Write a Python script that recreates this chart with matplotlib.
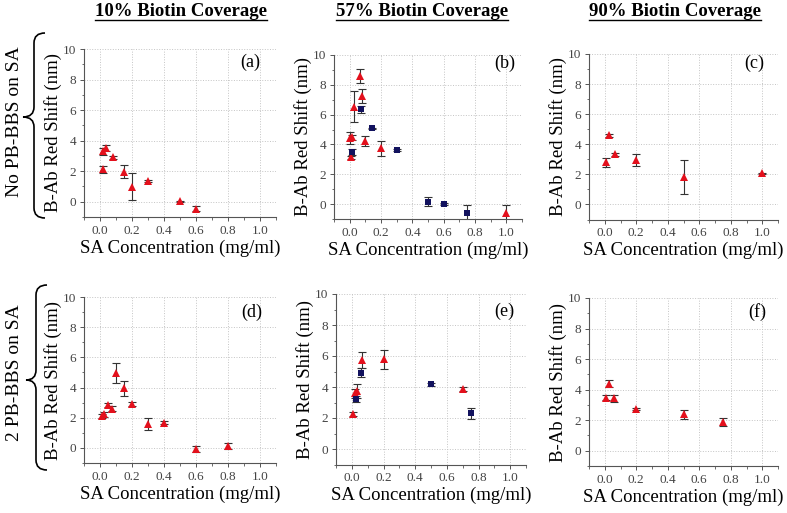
import matplotlib
matplotlib.use("Agg")
import matplotlib.pyplot as plt
from matplotlib.path import Path
from matplotlib.patches import PathPatch
from matplotlib.lines import Line2D
from matplotlib.ticker import MultipleLocator

plt.rcParams['font.family'] = ['Liberation Serif', 'DejaVu Serif']

W, H = 787, 513

col_titles = ['10% Biotin Coverage', '57% Biotin Coverage', '90% Biotin Coverage']
row_titles = ['No PB-BBS on SA', '2 PB-BBS on SA']
panel_tags = ['(a)', '(b)', '(c)', '(d)', '(e)', '(f)']
xticks = [0.0, 0.2, 0.4, 0.6, 0.8, 1.0]
yticks = [0, 2, 4, 6, 8, 10]

# (a) 10%, no PB-BBS
a_x = [0.02, 0.037, 0.02, 0.08, 0.15, 0.2, 0.3, 0.5, 0.6]
a_y = [3.3, 3.5, 2.12, 2.9, 1.97, 0.99, 1.36, 0.02, -0.45]
a_e = [0.25, 0.2, 0.23, 0.1, 0.43, 0.88, 0.05, 0.05, 0.15]

# (b) 57%, no PB-BBS
b_x = [0.0, 0.011, 0.015, 0.028, 0.064, 0.079, 0.1, 0.2, 1.0]
b_y = [4.41, 3.13, 4.48, 6.53, 8.6, 7.25, 4.25, 3.74, -0.58]
b_e = [0.4, 0.1, 0.15, 1.05, 0.45, 0.5, 0.33, 0.5, 0.5]
b_sq_x = [0.015, 0.07, 0.145, 0.3, 0.5, 0.6, 0.75]
b_sq_y = [3.47, 6.36, 5.08, 3.62, 0.15, 0.0, -0.58]
b_sq_e = [0.2, 0.25, 0.05, 0.05, 0.3, 0.05, 0.5]

# (c) 90%, no PB-BBS
c_x = [0.01, 0.027, 0.064, 0.2, 0.5, 1.0]
c_y = [2.8, 4.6, 3.33, 2.93, 1.8, 2.06]
c_e = [0.28, 0.1, 0.1, 0.4, 1.13, 0.05]

# (d) 10%, 2 PB-BBS
d_x = [0.015, 0.025, 0.05, 0.075, 0.1, 0.15, 0.2, 0.3, 0.4, 0.6, 0.8]
d_y = [2.12, 2.22, 2.85, 2.6, 4.95, 3.95, 2.91, 1.59, 1.68, -0.09, 0.11]
d_e = [0.15, 0.15, 0.15, 0.18, 0.65, 0.48, 0.15, 0.42, 0.1, 0.2, 0.2]

# (e) 57%, 2 PB-BBS
e_x = [0.005, 0.02, 0.03, 0.062, 0.2, 0.7]
e_y = [2.26, 3.6, 3.75, 5.74, 5.79, 3.87]
e_e = [0.12, 0.3, 0.45, 0.5, 0.6, 0.1]
e_sq_x = [0.027, 0.058, 0.5, 0.75]
e_sq_y = [3.23, 4.92, 4.17, 2.3]
e_sq_e = [0.2, 0.28, 0.08, 0.35]

# (f) 90%, 2 PB-BBS
f_x = [0.006, 0.027, 0.06, 0.2, 0.5, 0.75]
f_y = [3.47, 4.4, 3.42, 2.72, 2.38, 1.88]
f_e = [0.15, 0.25, 0.2, 0.08, 0.3, 0.25]

tri_sets = [(a_x, a_y, a_e), (b_x, b_y, b_e), (c_x, c_y, c_e),
            (d_x, d_y, d_e), (e_x, e_y, e_e), (f_x, f_y, f_e)]
sq_sets = [None, (b_sq_x, b_sq_y, b_sq_e), None,
           None, (e_sq_x, e_sq_y, e_sq_e), None]

# axes boxes in pixels: left, right, top (y=10), bottom (y=-1)
boxes = [(84, 276, 49, 217), (334, 522, 55, 219), (589, 778, 54, 219.5),
         (84, 276, 297, 463), (336, 526, 294, 464.5), (589, 778, 298, 466)]
tag_pos = [(0.865, 0.923), (0.91, 0.95), (0.873, 0.946),
           (0.875, 0.905), (0.884, 0.896), (0.889, 0.918)]

RED = '#e3101c'
NAVY = '#12125e'
ECOL = '#333333'

fig = plt.figure(figsize=(W / 100, H / 100), dpi=100)


def px(x, y):
    return x / W, 1 - y / H


for i, (l, r, t, b) in enumerate(boxes):
    ax = fig.add_axes([l / W, 1 - b / H, (r - l) / W, (b - t) / H])
    ax.set_xlim(-0.1, 1.1)
    ax.set_ylim(-1, 10)
    ax.set_xticks(xticks)
    ax.set_yticks(yticks)
    ax.set_xticklabels(['%.1f' % v for v in xticks])
    ax.xaxis.set_minor_locator(MultipleLocator(0.1))
    ax.yaxis.set_minor_locator(MultipleLocator(1))
    ax.grid(True, which='major', linestyle=':', color='#c4c4c4', linewidth=0.7)
    ax.set_axisbelow(True)
    for s in ['top', 'right']:
        ax.spines[s].set_visible(False)
    for s in ['left', 'bottom']:
        ax.spines[s].set_color('#555555')
        ax.spines[s].set_linewidth(0.8)
    ax.tick_params(which='major', direction='out', length=3, width=0.7,
                   color='#555555', labelsize=9.5, labelcolor='#444444', pad=2.5)
    ax.tick_params(which='minor', direction='out', length=1.8, width=0.6,
                   color='#555555')

    tx, ty, te = tri_sets[i]
    ax.errorbar(tx, ty, yerr=te, fmt='none', ecolor=ECOL, elinewidth=0.8,
                capsize=3, capthick=0.8, zorder=3)
    ax.plot(tx, ty, linestyle='none', marker='^', markersize=6,
            color=RED, markeredgewidth=0, zorder=4)
    if sq_sets[i] is not None:
        sx, sy, se = sq_sets[i]
        ax.errorbar(sx, sy, yerr=se, fmt='none', ecolor=ECOL, elinewidth=0.8,
                    capsize=3, capthick=0.8, zorder=3)
        ax.plot(sx, sy, linestyle='none', marker='s', markersize=4.3,
                color=NAVY, markeredgewidth=0, zorder=4)

    ax.set_xlabel('SA Concentration (mg/ml)', fontsize=13.5, labelpad=2)
    ax.set_ylabel('B-Ab Red Shift (nm)', fontsize=13.5, labelpad=1)
    ax.text(tag_pos[i][0], tag_pos[i][1], panel_tags[i], transform=ax.transAxes,
            fontsize=13, ha='center', va='center')

# column titles, underlined
title_x = [181, 422, 675]
titles = []
for name, cx in zip(col_titles, title_x):
    titles.append(fig.text(*px(cx, 12), name, fontsize=13.5, fontweight='bold',
                           ha='center', va='center'))
fig.canvas.draw()
inv = fig.transFigure.inverted()
for t in titles:
    bb = t.get_window_extent()
    (x0, y0), (x1, _) = inv.transform([(bb.x0, bb.y0 + 1), (bb.x1, bb.y0 + 1)])
    fig.add_artist(Line2D([x0, x1], [y0, y0], color='black', linewidth=1.0,
                          transform=fig.transFigure))

# row labels
fig.text(*px(15, 122), row_titles[0], fontsize=14, rotation=90,
         ha='center', va='center')
fig.text(*px(15, 373), row_titles[1], fontsize=14, rotation=90,
         ha='center', va='center')


def brace(xe, xm, xt, ytop, ymid, ybot, r=10):
    verts = [(xe, ytop), (xm, ytop), (xm, ytop + r),
             (xm, ymid - r), (xm, ymid), (xt, ymid),
             (xm, ymid), (xm, ymid + r),
             (xm, ybot - r), (xm, ybot), (xe, ybot)]
    codes = [Path.MOVETO, Path.CURVE3, Path.CURVE3,
             Path.LINETO, Path.CURVE3, Path.CURVE3,
             Path.CURVE3, Path.CURVE3,
             Path.LINETO, Path.CURVE3, Path.CURVE3]
    verts = [px(x, y) for x, y in verts]
    fig.add_artist(PathPatch(Path(verts, codes), facecolor='none',
                             edgecolor='black', linewidth=1.2,
                             transform=fig.transFigure))


brace(45, 34, 23, 33, 117, 218)
brace(47, 36, 26, 285, 380, 470)

fig.savefig('out.png', dpi=100)
